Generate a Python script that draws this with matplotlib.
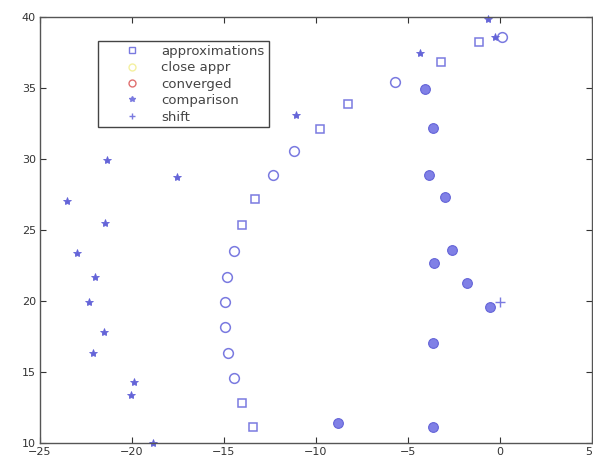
import matplotlib
matplotlib.use("Agg")
import matplotlib.pyplot as plt
from matplotlib.lines import Line2D

# open squares (approximations)
appr_sq_x = [-13.42, -14.02, -14.02, -13.32, -9.78, -8.26, -3.21, -1.14]
appr_sq_y = [11.13, 12.82, 25.35, 27.18, 32.11, 33.87, 36.83, 38.24]

# open circles (approximations, rounded)
appr_o_x = [-14.46, -14.78, -14.95, -14.95, -14.84, -14.46, -12.34, -11.20, -5.71, 0.11]
appr_o_y = [14.58, 16.34, 18.17, 19.93, 21.69, 23.52, 28.87, 30.56, 35.42, 38.59]

# converged points (drawn filled)
conv_x = [-4.08, -3.64, -3.86, -2.99, -2.61, -3.59, -1.79, -0.54, -3.64, -8.80, -3.64]
conv_y = [34.93, 32.18, 28.87, 27.32, 23.59, 22.68, 21.27, 19.58, 17.04, 11.41, 11.13]

# comparison (asterisks)
comp_x = [-23.53, -21.36, -21.47, -22.99, -22.01, -22.34, -21.52, -22.12, -19.89,
          -20.05, -18.86, -17.55, -11.09, -4.35, -0.65, -0.27]
comp_y = [27.04, 29.93, 25.49, 23.38, 21.69, 19.93, 17.82, 16.34, 14.30,
          13.38, 10.0, 28.73, 33.10, 37.46, 39.86, 38.59]

# shift
shift_x = [0.0]
shift_y = [19.95]

legend_labels = ["approximations", "close appr", "converged", "comparison", "shift"]

blue = "#7a7ae0"
dark_blue = "#6464d8"

fig = plt.figure(figsize=(5.93, 4.67), dpi=100)
ax = fig.add_axes([40 / 593, 24 / 467, 552 / 593, 426 / 467])

ax.plot(appr_sq_x, appr_sq_y, "s", mfc="none", mec=blue, ms=6, mew=1.1, clip_on=False)
ax.plot(appr_o_x, appr_o_y, "o", mfc="none", mec=blue, ms=7, mew=1.1, clip_on=False)
ax.plot(conv_x, conv_y, "o", mfc="#8080e6", mec=dark_blue, ms=7, mew=0.8, clip_on=False)
ax.plot(comp_x, comp_y, "*", color=dark_blue, ms=6, mew=0.6, clip_on=False)
ax.plot(shift_x, shift_y, "+", color=blue, ms=7, mew=1.0, clip_on=False)

ax.set_xlim(-25, 5)
ax.set_ylim(10, 40)
ax.set_xticks([-25, -20, -15, -10, -5, 0, 5])
ax.set_yticks([10, 15, 20, 25, 30, 35, 40])
ax.tick_params(direction="in", top=True, right=True, length=4, width=0.8,
               labelsize=8, colors="#333333", pad=3)
# keep the last x label inside the figure
ax.get_xticklabels()[-1].set_horizontalalignment("right")
for s in ax.spines.values():
    s.set_color("#555555")
    s.set_linewidth(1.0)

handles = [
    Line2D([], [], ls="none", marker="s", mfc="none", mec=blue, ms=5),
    Line2D([], [], ls="none", marker="o", mfc="none", mec="#f4f0a0", ms=5),
    Line2D([], [], ls="none", marker="o", mfc="none", mec="#e07070", ms=5),
    Line2D([], [], ls="none", marker="*", color=blue, ms=4),
    Line2D([], [], ls="none", marker="+", color=blue, ms=4),
]
leg = ax.legend(handles, legend_labels, loc="upper left", bbox_to_anchor=(0.105, 0.944),
                fontsize=9.5, frameon=True, fancybox=False, framealpha=1,
                edgecolor="#444444", labelspacing=0.26, handlelength=4.5,
                handletextpad=0.0, borderpad=0.3, borderaxespad=0)
leg.get_frame().set_linewidth(1.0)
for t in leg.get_texts():
    t.set_color("#444444")

fig.savefig("out.png", dpi=100)
